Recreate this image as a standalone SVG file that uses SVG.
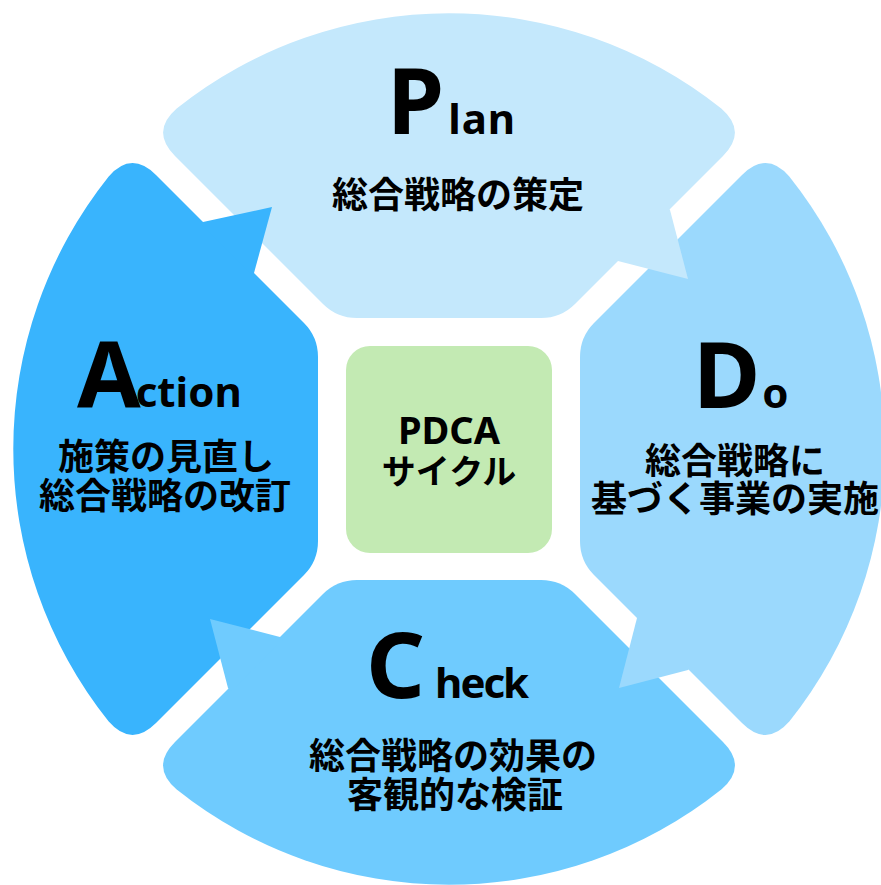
<svg xmlns="http://www.w3.org/2000/svg" width="881" height="885" viewBox="0 0 881 885">
<style>
.plan{fill:#C4E8FC}
.do{fill:#9BD9FD}
.check{fill:#6FCBFE}
.action{fill:#39B4FD}
.box{fill:#C3EAB3}
.big{font-family:"Noto Sans","Liberation Sans",sans-serif;font-weight:700;font-size:92px;fill:#000}
.small{font-size:42px}
.jp{font-family:"Noto Sans CJK JP","Noto Sans",sans-serif;font-weight:700;font-size:36px;fill:#000;text-anchor:middle}
.ctr{font-family:"Noto Sans","Noto Sans CJK JP",sans-serif;font-weight:700;fill:#000;text-anchor:middle}
</style>
<rect width="881" height="885" fill="#FFFFFF"/>
<g id="plan">
<path class="plan" d="M176.7 108.5 A437 437 0 0 1 721.3 108.5 Q747.7 131.3 723 156 L575 304 Q561 318 541 318 L357 318 Q337 318 323 304 L175 156 Q150.3 131.3 176.7 108.5 Z"/>
<text class="big" x="387" y="134">P<tspan class="small" dx="4" letter-spacing="1">lan</tspan></text>
<text class="jp" x="458" y="208" font-size="37">総合戦略の策定</text>
</g>
<g id="do">
<path class="do" d="M789.5 176.7 A437 437 0 0 1 789.5 721.3 Q766.7 747.7 742 723 L594 575 Q580 561 580 541 L580 357 Q580 337 594 323 L742 175 Q766.7 150.3 789.5 176.7 Z"/>
<text class="big" x="693" y="408">D<tspan class="small" dx="2">o</tspan></text>
<text class="jp" x="735" y="474">総合戦略に</text>
<text class="jp" x="735" y="512">基づく事業の実施</text>
</g>
<g id="check">
<path class="check" d="M721.3 789.5 A437 437 0 0 1 176.7 789.5 Q150.3 766.7 175 742 L323 594 Q337 580 357 580 L541 580 Q561 580 575 594 L723 742 Q747.7 766.7 721.3 789.5 Z"/>
<text class="big" x="366" y="698">C<tspan class="small" dx="10" letter-spacing="-2">heck</tspan></text>
<text class="jp" x="453" y="769" font-size="36.5">総合戦略の効果の</text>
<text class="jp" x="455" y="808">客観的な検証</text>
</g>
<g id="action">
<path class="action" d="M108.5 721.3 A437 437 0 0 1 108.5 176.7 Q131.3 150.3 156 175 L304 323 Q318 337 318 357 L318 541 Q318 561 304 575 L156 723 Q131.3 747.7 108.5 721.3 Z"/>
<text class="big" x="77" y="407">A<tspan class="small" dx="-5">ction</tspan></text>
<text class="jp" x="166" y="470">施策の見直し</text>
<text class="jp" x="165" y="509">総合戦略の改訂</text>
</g>
<g id="center">
<rect class="box" x="346" y="346" width="206" height="207" rx="24"/>
<text class="ctr" x="449" y="444" font-size="38">PDCA</text>
<text class="ctr" x="449" y="484" font-size="34" style="font-family:'Noto Sans CJK JP',sans-serif">サイクル</text>
</g>
<g id="connectors">
<path class="plan" d="M667 207 L670 210 L688 279 L618 261 L615 258 Z"/>
<path class="do" d="M691 667 L688 670 L619 688 L637 618 L640 615 Z"/>
<path class="check" d="M231 691 L228 688 L210 619 L280 637 L283 640 Z"/>
<path class="action" d="M201 224 L203 222 L272 207 L254 273 L252 275 Z"/>
</g>
</svg>
